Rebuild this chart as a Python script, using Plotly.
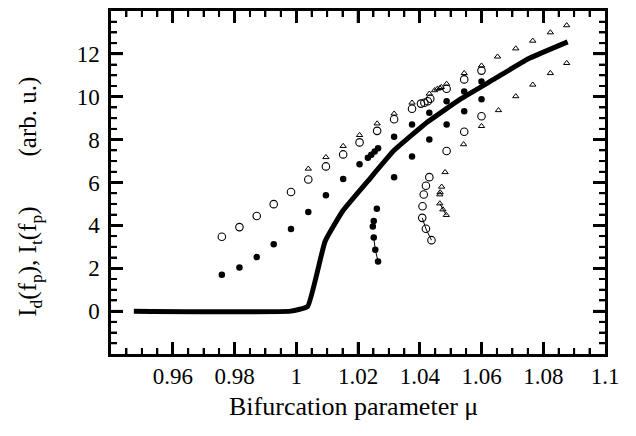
import plotly.graph_objects as go

# ---- data ----
curve_x = [0.9474, 0.9982, 1.0037, 1.0093, 1.0150, 1.0231, 1.0317, 1.0426, 1.0534, 1.0642, 1.0750, 1.0879]
curve_y = [0.0, 0.0, 0.22, 3.24, 4.66, 6.05, 7.50, 8.83, 9.91, 10.83, 11.76, 12.56]

filled_x = [0.9759, 0.9816, 0.9872, 0.9927, 0.9983, 1.0039, 1.0096, 1.0152, 1.0205,
            1.0232, 1.0243, 1.0254, 1.0265,
            1.0317, 1.0375, 1.0431, 1.0487, 1.0544, 1.0600,
            1.0317, 1.0375, 1.0431, 1.0487, 1.0544, 1.0600,
            1.0261, 1.0251, 1.0248]
filled_y = [1.70, 2.04, 2.52, 3.12, 3.83, 4.62, 5.40, 6.16, 6.85,
            7.15, 7.30, 7.45, 7.60,
            8.13, 8.70, 9.25, 9.79, 10.25, 10.71,
            6.24, 7.21, 8.01, 8.70, 9.32, 9.88,
            4.77, 4.20, 3.95]
filled_tail_x = [1.0251, 1.0256, 1.0265]
filled_tail_y = [3.43, 2.86, 2.32]

open_x = [0.9759, 0.9816, 0.9872, 0.9927, 0.9983, 1.0039, 1.0096, 1.0152, 1.0205, 1.0262,
          1.0317, 1.0375, 1.0404, 1.0415, 1.0426, 1.0434, 1.0487, 1.0544, 1.0600,
          1.0600, 1.0544, 1.0487, 1.0431, 1.0420, 1.0413, 1.0409]
open_y = [3.47, 3.92, 4.44, 4.99, 5.56, 6.14, 6.75, 7.31, 7.87, 8.41,
          8.95, 9.44, 9.68, 9.72, 9.79, 9.91, 10.37, 10.81, 11.22,
          9.09, 8.37, 7.47, 6.25, 5.85, 5.44, 4.89]
open_tail_x = [1.0408, 1.0420, 1.0438]
open_tail_y = [4.35, 3.84, 3.31]

tri_x = [1.0039, 1.0096, 1.0152, 1.0205, 1.0262, 1.0317, 1.0375, 1.0431, 1.0448, 1.0457,
         1.0465, 1.0470, 1.0487, 1.0544, 1.0600, 1.0652, 1.0711, 1.0766, 1.0823, 1.0876,
         1.0876, 1.0823, 1.0766, 1.0711, 1.0655, 1.0600, 1.0542, 1.0482, 1.0471, 1.0466, 1.0465]
tri_y = [6.64, 7.18, 7.70, 8.21, 8.75, 9.21, 9.72, 10.14, 10.30, 10.37,
         10.40, 10.45, 10.60, 11.10, 11.45, 11.87, 12.25, 12.61, 13.00, 13.33,
         11.57, 11.10, 10.56, 10.02, 9.37, 8.63, 7.78, 6.48, 5.80, 5.54, 5.44]
tri_tail_x = [1.0465, 1.0475, 1.0486]
tri_tail_y = [5.02, 4.74, 4.48]

x_range = [0.94, 1.1]
y_range = [-2, 14]
x_tickvals = [0.96, 0.98, 1.0, 1.02, 1.04, 1.06, 1.08, 1.1]
x_ticktext = ["0.96", "0.98", "1", "1.02", "1.04", "1.06", "1.08", "1.1"]
y_tickvals = [0, 2, 4, 6, 8, 10, 12, 14]
y_ticktext = ["0", "2", "4", "6", "8", "10", "12", "14"]
minor_per_major = 4  # three minor ticks between majors

FONT = "Times New Roman, Liberation Serif, DejaVu Serif, serif"

W, H = 636, 436
M_L, M_R, M_T, M_B = 111, 31, 8, 82
PLOT_W = W - M_L - M_R
PLOT_H = H - M_T - M_B
MAJOR_LEN, MINOR_LEN = 12, 6


def minor_positions(majors):
    out = []
    for a, b in zip(majors[:-1], majors[1:]):
        for k in range(1, minor_per_major):
            out.append(a + k * (b - a) / minor_per_major)
    return out


x_minor = minor_positions([x_range[0]] + x_tickvals)
y_minor = minor_positions([y_range[0]] + y_tickvals)
x_major_inner = [v for v in x_tickvals if x_range[0] < v < x_range[1]]
y_major_inner = [v for v in y_tickvals if y_range[0] < v < y_range[1]]

fig = go.Figure()
fig.add_trace(go.Scatter(x=curve_x, y=curve_y, mode="lines",
                         line=dict(color="black", width=5, shape="spline", smoothing=0.35),
                         hoverinfo="skip"))
fig.add_trace(go.Scatter(x=filled_x, y=filled_y, mode="markers",
                         marker=dict(symbol="circle", size=6.5, color="black")))
fig.add_trace(go.Scatter(x=filled_tail_x, y=filled_tail_y, mode="lines+markers",
                         line=dict(color="black", width=1),
                         marker=dict(symbol="circle", size=6.5, color="black")))
fig.add_trace(go.Scatter(x=open_x, y=open_y, mode="markers",
                         marker=dict(symbol="circle-open", size=7.5, color="black",
                                     line=dict(width=1.1, color="black"))))
fig.add_trace(go.Scatter(x=open_tail_x, y=open_tail_y, mode="lines+markers",
                         line=dict(color="black", width=1),
                         marker=dict(symbol="circle-open", size=7.5, color="black",
                                     line=dict(width=1.1, color="black"))))
fig.add_trace(go.Scatter(x=tri_x, y=tri_y, mode="markers",
                         marker=dict(symbol="triangle-up-open", size=5.5, color="black",
                                     line=dict(width=1, color="black"))))
fig.add_trace(go.Scatter(x=tri_tail_x, y=tri_tail_y, mode="lines+markers",
                         line=dict(color="black", width=1),
                         marker=dict(symbol="triangle-up-open", size=5.5, color="black",
                                     line=dict(width=1, color="black"))))

# inward tick marks on all four sides, placed on the axes' own scales
shapes = []
for xs, length, w in ((x_major_inner, MAJOR_LEN, 2.5), (x_minor, MINOR_LEN, 2)):
    f = length / PLOT_H
    for v in xs:
        shapes.append(dict(type="line", xref="x", yref="y domain", x0=v, x1=v, y0=0, y1=f,
                           line=dict(color="black", width=w), layer="above"))
        shapes.append(dict(type="line", xref="x", yref="y domain", x0=v, x1=v, y0=1 - f, y1=1,
                           line=dict(color="black", width=w), layer="above"))
for ys, length, w in ((y_major_inner, MAJOR_LEN, 2.5), (y_minor, MINOR_LEN, 2)):
    f = length / PLOT_W
    for v in ys:
        shapes.append(dict(type="line", xref="x domain", yref="y", x0=0, x1=f, y0=v, y1=v,
                           line=dict(color="black", width=w), layer="above"))
        shapes.append(dict(type="line", xref="x domain", yref="y", x0=1 - f, x1=1, y0=v, y1=v,
                           line=dict(color="black", width=w), layer="above"))

axis_common = dict(showline=True, linecolor="black", linewidth=2.5, mirror="allticks",
                   ticks="inside", ticklen=MAJOR_LEN, tickwidth=2.5, tickcolor="black",
                   layer="above traces", showgrid=False, zeroline=False,
                   tickfont=dict(family=FONT, size=23, color="black"))

fig.update_xaxes(range=x_range, tickmode="array", tickvals=x_tickvals, ticktext=x_ticktext,
                 minor=dict(ticks="inside", ticklen=MINOR_LEN, tickwidth=2, tickcolor="black",
                            tick0=x_range[0], dtick=0.005, showgrid=False),
                 **axis_common)
fig.update_yaxes(range=y_range, tickmode="array", tickvals=y_tickvals, ticktext=y_ticktext,
                 minor=dict(ticks="inside", ticklen=MINOR_LEN, tickwidth=2, tickcolor="black",
                            tick0=y_range[0], dtick=0.5, showgrid=False),
                 ticklabelstandoff=4, **axis_common)

fig.add_annotation(text="Bifurcation parameter \u03bc", xref="paper", yref="paper",
                   x=0.49, y=-0.152, xanchor="center", yanchor="middle", showarrow=False,
                   font=dict(family=FONT, size=26, color="black"))
fig.add_annotation(text="I<sub>d</sub>(f<sub>p</sub>), I<sub>t</sub>(f<sub>p</sub>)\u2003\u2003(arb. u.)",
                   xref="paper", yref="paper", x=-0.165, y=0.46, textangle=-90,
                   xanchor="center", yanchor="middle", showarrow=False,
                   font=dict(family=FONT, size=25, color="black"))

fig.update_layout(width=W, height=H, showlegend=False, shapes=shapes,
                  margin=dict(l=M_L, r=M_R, t=M_T, b=M_B),
                  paper_bgcolor="white", plot_bgcolor="white",
                  font=dict(family=FONT, color="black"))

fig.write_html("out.html")
